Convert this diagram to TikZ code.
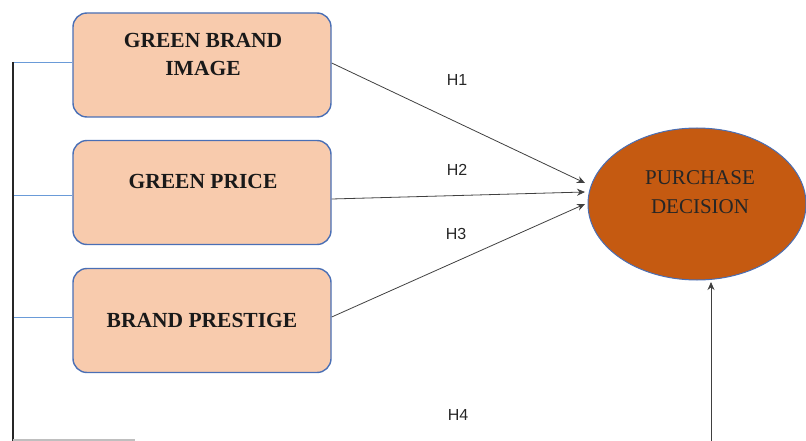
\documentclass[tikz,border=0pt]{standalone}
\usepackage{fontspec}
\setmainfont{Liberation Serif}
\newfontfamily\hfont{Liberation Sans}
\usetikzlibrary{shapes.geometric,arrows.meta}
\definecolor{peach}{HTML}{F8CBAD}
\definecolor{boxline}{HTML}{4A6FB5}
\definecolor{rust}{HTML}{C55A11}
\definecolor{busblue}{HTML}{6A9BD8}
\tikzset{
  varbox/.style={draw=boxline, line width=1.4pt, fill=peach, rounded corners=14pt,
    minimum width=258pt, minimum height=104pt, inner sep=0pt},
  boxtext/.style={font=\fontsize{21.5}{28}\selectfont\bfseries, align=center, text=black!90},
  hlabel/.style={font=\hfont\fontsize{16}{18}\selectfont, text=black!85},
  arr/.style={draw=black!75, line width=0.8pt, -{Stealth[length=8pt,width=7pt]}},
  busline/.style={draw=busblue, line width=0.9pt},
}
\begin{document}
\begin{tikzpicture}[x=1pt,y=-1pt]
\useasboundingbox (0,0) rectangle (806,441);
\begin{scope}
\clip (0,0) rectangle (806,441);
% boxes
\node[varbox] (b1) at (202,65) {};
\node[varbox] (b2) at (202,192.5) {};
\node[varbox] (b3) at (202,320.5) {};
\node[boxtext] (t1) at (203,54) {GREEN BRAND\\IMAGE};
\node[boxtext] (t2) at (203,181) {GREEN PRICE};
\node[boxtext] (t3) at (202,320) {BRAND PRESTIGE};
% outcome
\node[ellipse, draw=boxline, line width=1pt, fill=rust, minimum width=218pt, minimum height=152pt, inner sep=0pt] (pd) at (697,204) {};
\node[font=\fontsize{21}{29}\selectfont, align=center, text=black!85] (tpd) at (700,192) {PURCHASE\\DECISION};
% arrow end points
\coordinate (e1) at (585,183);
\coordinate (e2) at (585,192);
\coordinate (e3) at (585,204);
\draw[arr] (b1.east |- 0,63) -- (e1);
\draw[arr] (b2.east |- 0,199) -- (e2);
\draw[arr] (b3.east |- 0,317) -- (e3);
% labels
\node[hlabel] (h1) at (457,80) {H1};
\node[hlabel] (h2) at (457,170) {H2};
\node[hlabel] (h3) at (456,234) {H3};
\node[hlabel] (h4) at (458,415) {H4};
% bus
\coordinate (s1) at (13,62);
\coordinate (s2) at (13,195);
\coordinate (s3) at (13,317);
\coordinate (sb) at (13,445);
\draw[busline] (s1) -- (s1 -| b1.west);
\draw[busline] (s2) -- (s2 -| b2.west);
\draw[busline] (s3) -- (s3 -| b3.west);
\draw[black!85, line width=2pt] (s1) -- (sb);
\coordinate (bl) at (13,440);
\coordinate (br) at (135,440);
\draw[black!25, line width=1.2pt] (bl) -- (br);
\coordinate (c4) at (711,445);
\draw[arr] (c4) -- (c4 |- 0,282);
\end{scope}
\end{tikzpicture}
\end{document}
